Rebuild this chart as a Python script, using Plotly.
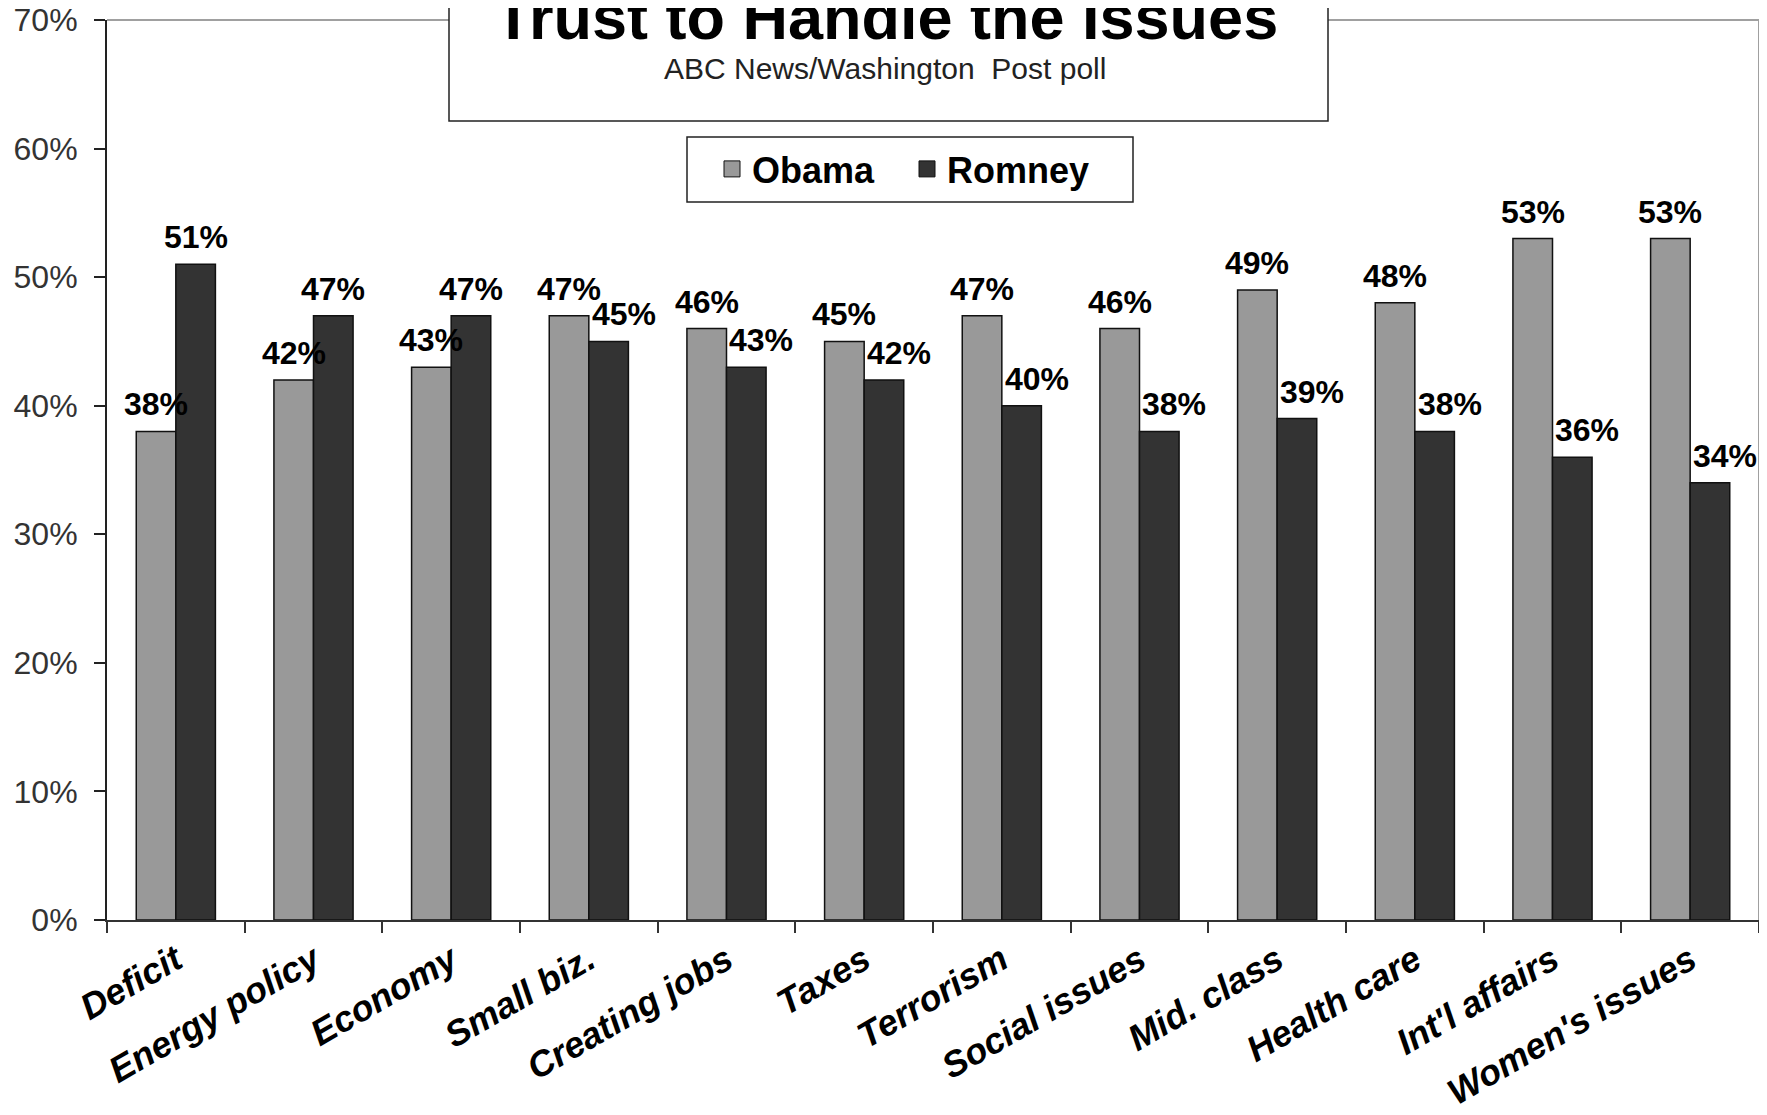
import plotly.graph_objects as go

categories = ["Deficit", "Energy policy", "Economy", "Small biz.", "Creating jobs", "Taxes",
              "Terrorism", "Social issues", "Mid. class", "Health care", "Int'l affairs", "Women's issues"]
obama = [38, 42, 43, 47, 46, 45, 47, 46, 49, 48, 53, 53]
romney = [51, 47, 47, 45, 43, 42, 40, 38, 39, 38, 36, 34]
y_ticks = [0, 10, 20, 30, 40, 50, 60, 70]
y_tick_labels = [f"{v}%" for v in y_ticks]

FONT = "Liberation Sans, Arial, Helvetica, sans-serif"
BARGAP = 0.425
OFF = (1 - BARGAP) / 4
OBAMA_COLOR = "#999999"
ROMNEY_COLOR = "#333333"
EDGE = "#111111"

# the html page body has an 8px margin; target positions are given in page pixels
PAGE_OFF = 8
W, H = 1767, 1115
# plot area in page pixels: left 107, top 20, right 1759, bottom 920
L = 107 - PAGE_OFF
T = 20 - PAGE_OFF
R = W - (1759 - PAGE_OFF)
B = H - (920 - PAGE_OFF)
PW, PH = W - L - R, H - T - B


def px_x(p):
    return (p - PAGE_OFF - L) / PW


def px_y(p):
    return (H - B - (p - PAGE_OFF)) / PH


fig = go.Figure()
fig.add_trace(go.Bar(name="Obama", x=categories, y=obama, showlegend=False,
                     marker=dict(color=OBAMA_COLOR, line=dict(color=EDGE, width=1.5))))
fig.add_trace(go.Bar(name="Romney", x=categories, y=romney, showlegend=False,
                     marker=dict(color=ROMNEY_COLOR, line=dict(color=EDGE, width=1.5))))
# legend keys (larger square swatches, as in the reference)
for name, col in (("Obama", OBAMA_COLOR), ("Romney", ROMNEY_COLOR)):
    fig.add_trace(go.Scatter(name=name, x=[None], y=[None], mode="markers",
                             marker=dict(symbol="square", size=16, color=col,
                                         line=dict(color=EDGE, width=1)),
                             showlegend=True, hoverinfo="skip"))

annotations = []
for i, (o, r) in enumerate(zip(obama, romney)):
    annotations.append(dict(x=i - OFF, y=o, xref="x", yref="y", text=f"<b>{o}%</b>",
                            showarrow=False, yanchor="bottom", yshift=7,
                            font=dict(family=FONT, size=32, color="#000000")))
    annotations.append(dict(x=i + OFF, y=r, xref="x", yref="y", text=f"<b>{r}%</b>",
                            showarrow=False, yanchor="bottom", yshift=7,
                            xshift=15 if r < o else 0,
                            font=dict(family=FONT, size=32, color="#000000")))

annotations.append(dict(x=px_x(886), y=px_y(54), xref="paper", yref="paper",
                        text="<b>Trust to Handle the Issues</b>", showarrow=False,
                        xanchor="center", yanchor="bottom",
                        font=dict(family=FONT, size=63, color="#000000")))
annotations.append(dict(x=px_x(885), y=px_y(68), xref="paper", yref="paper",
                        text="ABC News/Washington&nbsp; Post poll", showarrow=False,
                        xanchor="center", yanchor="middle",
                        font=dict(family=FONT, size=30, color="#222222")))

shapes = [
    # top and right plot border (gray)
    dict(type="line", xref="paper", yref="paper", x0=0, x1=1, y0=1, y1=1,
         line=dict(color="#a0a0a0", width=2), layer="below"),
    dict(type="line", xref="paper", yref="paper", x0=1, x1=1, y0=0, y1=1,
         line=dict(color="#a0a0a0", width=2), layer="below"),
    # title box
    dict(type="rect", xref="paper", yref="paper", x0=px_x(449), x1=px_x(1328),
         y0=px_y(121), y1=px_y(-10), fillcolor="#ffffff",
         line=dict(color="#222222", width=1.5), layer="above"),
    # legend box
    dict(type="rect", xref="paper", yref="paper", x0=px_x(687), x1=px_x(1133),
         y0=px_y(202), y1=px_y(137), fillcolor="rgba(0,0,0,0)",
         line=dict(color="#222222", width=1.5), layer="above"),
]

fig.update_layout(
    width=W, height=H,
    margin=dict(l=L, r=R, t=T, b=B, autoexpand=False),
    paper_bgcolor="#ffffff", plot_bgcolor="#ffffff",
    barmode="group", bargap=BARGAP, bargroupgap=0,
    showlegend=True,
    legend=dict(orientation="h", x=px_x(712), xanchor="left", y=px_y(169), yanchor="middle",
                bgcolor="rgba(0,0,0,0)", borderwidth=0, itemsizing="trace",
                entrywidth=150, entrywidthmode="pixels",
                font=dict(family=FONT, size=36, color="#000000", weight="bold")),
    annotations=annotations,
    shapes=shapes,
    xaxis=dict(type="category", range=[-0.5, len(categories) - 0.5], automargin=False,
               showline=True, linecolor="#333333", linewidth=2,
               ticks="outside", tickson="boundaries", ticklen=11, tickwidth=2, tickcolor="#333333",
               tickangle=-30, showgrid=False, ticklabelstandoff=3,
               ticklabeloverflow="allow",
               tickfont=dict(family=FONT, size=36, color="#000000", weight="bold", style="italic")),
    yaxis=dict(range=[0, 70], tickmode="array", tickvals=y_ticks, ticktext=y_tick_labels,
               automargin=False,
               showline=True, linecolor="#222222", linewidth=2,
               ticks="outside", ticklen=11, tickwidth=2, tickcolor="#222222",
               ticklabelstandoff=10, ticklabeloverflow="allow",
               showgrid=False, zeroline=False,
               tickfont=dict(family=FONT, size=32, color="#333333")),
)

fig.write_html("out.html")
